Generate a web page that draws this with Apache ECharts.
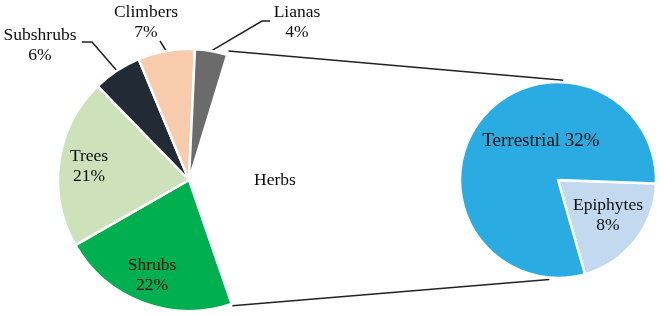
<!DOCTYPE html>
<html>
<head>
<meta charset="utf-8">
<script src="https://cdn.jsdelivr.net/npm/echarts@6/dist/echarts.min.js"></script>
<style>html,body{margin:0;padding:0;background:#fff}#c{width:664px;height:315px}</style>
</head>
<body>
<div id="c"></div>
<script>
// ---- data ----
const leftNames = ['Herbs', 'Shrubs', 'Trees', 'Subshrubs', 'Climbers', 'Lianas'];
const leftValues = [40, 22, 21, 6, 7, 4];
const rightNames = ['Epiphytes', 'Terrestrial'];
const rightValues = [8, 32];

// ---- style / layout ----
const leftColors = { Herbs: '#ffffff', Shrubs: '#00b050', Trees: '#cde2bb', Subshrubs: '#222a35', Climbers: '#f8cbad', Lianas: '#6b6b6b' };
const rightColors = { Epiphytes: '#c2d9ef', Terrestrial: '#2aace2' };
const L = { cx: 189, cy: 180, r: 131, start: 73 };
const R = { cx: 558, cy: 180, r: 98, start: -2 };
const FONT = 'Liberation Serif';
const outsideLabels = {
  Lianas: { pos: [297, 22], elbow: [[262, 21], [270, 21]] },
  Climbers: { pos: [146, 22], elbow: [[160, 41]] },
  Subshrubs: { pos: [40, 45], elbow: [[92, 42], [82, 42]] }
};
const insideLabelPos = { Herbs: [275, 180], Shrubs: [152, 275], Trees: [89, 166] };
const rightLabelPos = { Terrestrial: [541, 141], Epiphytes: [608, 215] };

const leftTotal = leftValues.reduce((a, b) => a + b, 0);
const herbsSpan = leftValues[0] / leftTotal * 360;
const rad = d => d * Math.PI / 180;
function polar(c, radius, deg) { return [c.cx + radius * Math.cos(rad(deg)), c.cy - radius * Math.sin(rad(deg))]; }

const leftData = leftNames.map((n, i) => {
  const outside = !!outsideLabels[n];
  return {
    name: n, value: leftValues[i],
    itemStyle: { color: leftColors[n], borderColor: '#fff', borderWidth: n === 'Herbs' ? 0 : 2.5 },
    label: {
      position: outside ? 'outside' : 'inside',
      formatter: n === 'Herbs' ? '{b}' : '{b}\n{c}%'
    },
    labelLine: { show: outside }
  };
});
const rightData = rightNames.map((n, i) => ({
  name: n, value: rightValues[i],
  itemStyle: { color: rightColors[n], borderColor: '#fff', borderWidth: 2.5 },
  label: { position: 'inside', formatter: n === 'Terrestrial' ? '{b} {c}%' : '{b}\n{c}%', fontSize: n === 'Terrestrial' ? 19 : 17.5 }
}));

// connector lines between pies
const p1 = polar(L, L.r + 4, L.start);
const p2 = polar(L, L.r + 2, L.start - herbsSpan);
const q1 = polar(R, R.r + 2, 87);
const q2 = polar(R, R.r + 2, -95);

const chart = echarts.init(document.getElementById('c'), null, { renderer: 'canvas' });
chart.setOption({
  animation: false,
  backgroundColor: '#fff',
  series: [
    {
      type: 'pie', center: [L.cx, L.cy], radius: L.r, startAngle: L.start, clockwise: true,
      avoidLabelOverlap: false, silent: true,
      label: { show: true, fontFamily: FONT, fontSize: 17.5, color: '#0d0d0d', lineHeight: 20, textBorderWidth: 0 },
      labelLine: { lineStyle: { color: '#222', width: 1.5 }, smooth: false },
      labelLayout: function (p) {
        const n = leftNames[p.dataIndex];
        if (outsideLabels[n]) {
          const o = outsideLabels[n];
          const start = p.labelLinePoints ? p.labelLinePoints[0] : null;
          const res = { x: o.pos[0], y: o.pos[1], align: 'center', verticalAlign: 'middle' };
          if (start) res.labelLinePoints = [start].concat(o.elbow);
          return res;
        }
        const q = insideLabelPos[n];
        return { x: q[0], y: q[1], align: 'center', verticalAlign: 'middle' };
      },
      data: leftData
    },
    {
      type: 'pie', center: [R.cx, R.cy], radius: R.r, startAngle: R.start, clockwise: true,
      avoidLabelOverlap: false, silent: true,
      label: { show: true, fontFamily: FONT, fontSize: 17.5, color: '#0d0d0d', lineHeight: 20, textBorderWidth: 0 },
      labelLine: { show: false },
      labelLayout: function (p) {
        const q = rightLabelPos[rightNames[p.dataIndex]];
        return { x: q[0], y: q[1], align: 'center', verticalAlign: 'middle' };
      },
      data: rightData
    }
  ],
  graphic: [
    { type: 'line', shape: { x1: p1[0], y1: p1[1], x2: q1[0], y2: q1[1] }, style: { stroke: '#222', lineWidth: 1.5 }, silent: true },
    { type: 'line', shape: { x1: p2[0], y1: p2[1], x2: q2[0], y2: q2[1] }, style: { stroke: '#222', lineWidth: 1.5 }, silent: true }
  ]
});
</script>
</body>
</html>
